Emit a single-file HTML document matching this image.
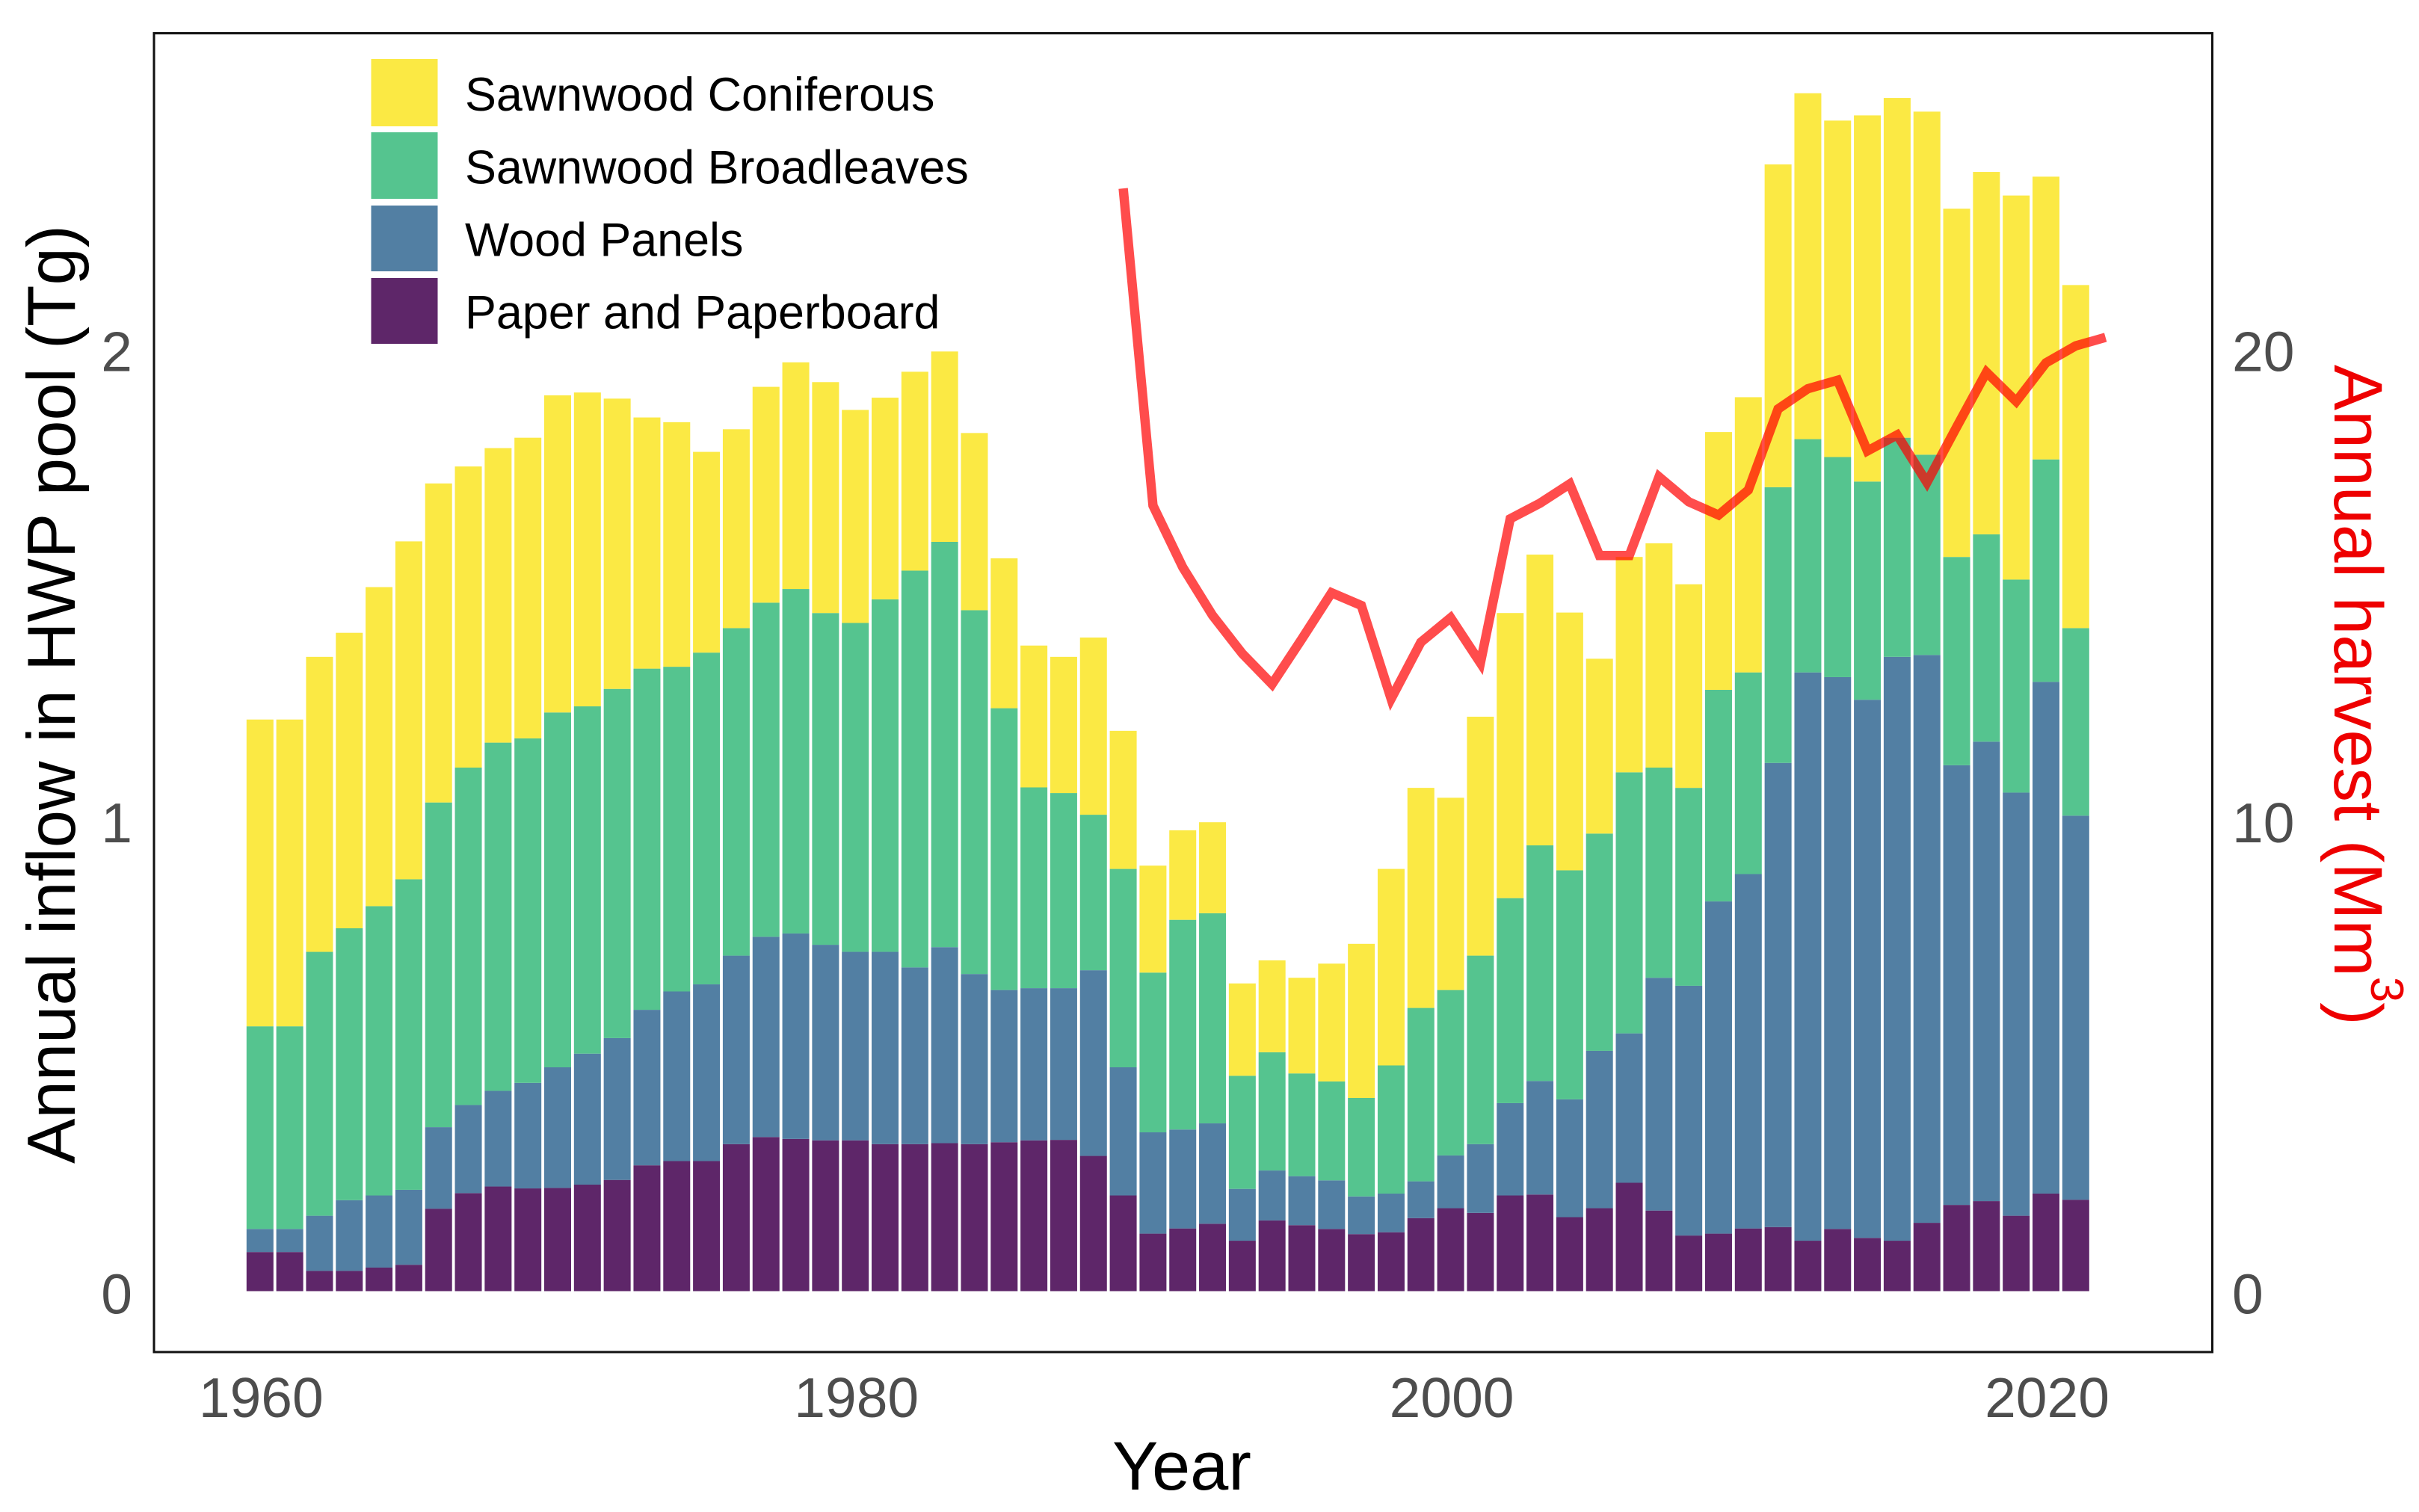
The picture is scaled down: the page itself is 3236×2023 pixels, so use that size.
<!DOCTYPE html>
<html>
<head>
<meta charset="utf-8">
<title>Annual inflow in HWP pool and annual harvest</title>
<style>
html,body{margin:0;padding:0;background:#fff;}
svg{display:block;font-family:"Liberation Sans",Arial,sans-serif;}
</style>
</head>
<body>
<svg id="chart" xmlns="http://www.w3.org/2000/svg" width="3236" height="2023" viewBox="0 0 3236 2023">
  <rect x="0" y="0" width="3236" height="2023" fill="#ffffff"/>
  <g id="bars"></g>
  <path id="harvest-line" fill="none" stroke="#ff0000" stroke-opacity="0.7" stroke-width="12.5" stroke-linejoin="miter"/>
  <rect x="206" y="44.5" width="2753.5" height="1764.5" fill="none" stroke="#111111" stroke-width="3"/>
  <g id="ticks" font-size="75" fill="#4d4d4d"></g>

  <text transform="translate(100,929) rotate(-90)" text-anchor="middle" font-size="90.5" fill="#000000">Annual inflow in HWP pool (Tg)</text>
  <text transform="translate(3123,488) rotate(90)" font-size="91.5" fill="#ee0000">Annual harvest (Mm<tspan font-size="62" dy="-49">3</tspan><tspan dy="49">)</tspan></text>
  <text x="1581" y="1993" text-anchor="middle" font-size="92" fill="#000000">Year</text>

  <g font-size="62.8" fill="#000000">
    <rect x="496.5" y="79" width="89" height="90" fill="#fbe944"/>
    <text x="622" y="148">Sawnwood Coniferous</text>
    <rect x="496.5" y="177" width="89" height="89" fill="#55c48f"/>
    <text x="622" y="245.5">Sawnwood Broadleaves</text>
    <rect x="496.5" y="275" width="89" height="88" fill="#527fa3"/>
    <text x="622" y="342.5">Wood Panels</text>
    <rect x="496.5" y="372" width="89" height="88" fill="#5e2669"/>
    <text x="622" y="439.5">Paper and Paperboard</text>
  </g>
</svg>
<script>
var firstYear = 1960;
var paper = [.083,.083,.043,.043,.050,.056,.175,.208,.222,.218,.219,.226,.236,.267,.276,.276,.312,.327,.323,.320,.320,.312,.312,.314,.312,.316,.320,.321,.287,.203,.122,.133,.143,.107,.150,.140,.132,.121,.125,.155,.176,.166,.203,.205,.157,.176,.230,.171,.118,.122,.133,.136,.107,.132,.113,.107,.145,.183,.191,.160,.207,.194];
var panels = [.049,.049,.117,.150,.153,.159,.173,.187,.203,.224,.256,.278,.301,.330,.360,.375,.400,.425,.436,.415,.400,.408,.375,.416,.361,.323,.323,.322,.394,.272,.215,.210,.213,.110,.106,.104,.103,.080,.082,.078,.112,.146,.196,.241,.250,.334,.317,.494,.530,.705,.752,.985,1.206,1.171,1.142,1.239,1.205,.933,.975,.898,1.086,.815];
var broadleaves = [.430,.430,.560,.577,.614,.659,.689,.716,.739,.731,.753,.737,.741,.724,.689,.704,.695,.709,.731,.704,.698,.748,.842,.860,.772,.598,.426,.414,.330,.421,.339,.445,.446,.240,.251,.218,.210,.209,.272,.368,.351,.400,.435,.500,.486,.461,.554,.446,.420,.449,.428,.585,.495,.467,.463,.465,.425,.442,.440,.452,.472,.398];
var coniferous = [.651,.651,.626,.627,.677,.717,.677,.639,.625,.638,.673,.666,.616,.533,.519,.426,.422,.458,.481,.490,.452,.428,.422,.404,.376,.318,.301,.289,.376,.293,.227,.190,.193,.196,.195,.203,.250,.327,.417,.467,.408,.507,.605,.617,.547,.371,.457,.476,.432,.547,.584,.685,.734,.714,.777,.721,.728,.739,.769,.815,.600,.728];
var harvestFirstYear = 1989;
var harvest = [23.4,16.67,15.36,14.34,13.53,12.88,13.84,14.82,14.55,12.57,13.77,14.29,13.33,16.39,16.72,17.13,15.61,15.61,17.28,16.75,16.47,17.0,18.72,19.15,19.33,17.83,18.17,17.16,18.34,19.5,18.88,19.7,20.06,20.24];
var xTicks = [1960,1980,2000,2020];
var yTicksLeft = [0,1,2];
var yTicksRight = [0,10,20];

var NS = 'http://www.w3.org/2000/svg';
function xScale(year){ return 347.8 + (year - 1960) * 39.82; }
function yScale(v){ return 1727.5 - v * 630.5; }
function yScaleRight(v){ return yScale(v / 10); }

var barsGroup = document.getElementById('bars');
var stackOrder = [
  {label:'paper', values:paper, fill:'#5e2669'},
  {label:'panels', values:panels, fill:'#527fa3'},
  {label:'broadleaves', values:broadleaves, fill:'#55c48f'},
  {label:'coniferous', values:coniferous, fill:'#fbe944'}
];
var barWidth = 36;
for (var i = 0; i < paper.length; i++) {
  var year = firstYear + i;
  var cum = 0;
  for (var s = 0; s < stackOrder.length; s++) {
    var layer = stackOrder[s];
    var next = cum + layer.values[i];
    var rect = document.createElementNS(NS, 'rect');
    rect.setAttribute('x', (xScale(year) - barWidth / 2).toFixed(2));
    rect.setAttribute('y', yScale(next).toFixed(2));
    rect.setAttribute('width', barWidth);
    rect.setAttribute('height', (yScale(cum) - yScale(next)).toFixed(2));
    rect.setAttribute('fill', layer.fill);
    
    
    barsGroup.appendChild(rect);
    cum = next;
  }
}

var d = '';
for (var h = 0; h < harvest.length; h++) {
  d += (h === 0 ? 'M' : 'L') + xScale(harvestFirstYear + h).toFixed(2) + ' ' + yScaleRight(harvest[h]).toFixed(2);
}
document.getElementById('harvest-line').setAttribute('d', d);

var ticksGroup = document.getElementById('ticks');
function addTick(label, x, y, anchor, name) {
  var t = document.createElementNS(NS, 'text');
  t.setAttribute('x', x);
  t.setAttribute('y', y);
  t.setAttribute('text-anchor', anchor);
  t.textContent = label;
  
  
  ticksGroup.appendChild(t);
}
xTicks.forEach(function (v) { addTick(String(v), xScale(v) + 1.5, 1896, 'middle', 'x-tick-' + v); });
yTicksLeft.forEach(function (v) { addTick(String(v), 177, yScale(v) + 30, 'end', 'y-tick-' + v); });
yTicksRight.forEach(function (v) { addTick(String(v), 2986, yScaleRight(v) + 30, 'start', 'secondary-y-tick-' + v); });
</script>
</body>
</html>
